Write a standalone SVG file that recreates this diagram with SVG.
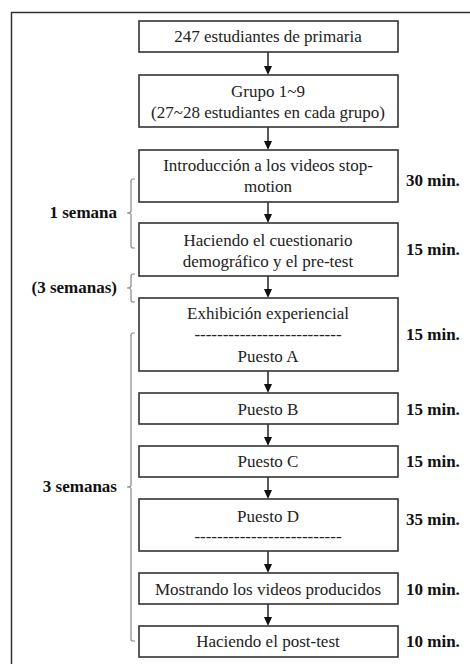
<svg xmlns="http://www.w3.org/2000/svg" width="470" height="664" viewBox="0 0 470 664">
<style>
.frame{fill:none;stroke:#333;stroke-width:1.5}
.box rect{fill:#fff;stroke:#333;stroke-width:1.6}
text{font-family:'Liberation Serif','Times New Roman',Tinos,'DejaVu Serif',serif;font-size:17px}
.t{fill:#222;text-anchor:middle}
.m{font-weight:bold;fill:#111}
.l{font-weight:bold;fill:#111;text-anchor:end}
.con line{stroke:#222;stroke-width:1.5}
.brace{fill:none;stroke:#888;stroke-width:1.2}
</style>
<rect class="frame" x="11.5" y="12.5" width="480" height="680"/>

<g class="con">
<line x1="268" y1="52" x2="268" y2="67"/>
<line x1="268" y1="127" x2="268" y2="142"/>
<line x1="268" y1="202" x2="268" y2="215"/>
<line x1="268" y1="276" x2="268" y2="290"/>
<line x1="268" y1="371" x2="268" y2="385"/>
<line x1="268" y1="424" x2="268" y2="438"/>
<line x1="268" y1="477" x2="268" y2="491"/>
<line x1="268" y1="551" x2="268" y2="565"/>
<line x1="268" y1="604" x2="268" y2="618"/>
<g fill="#111">
<path d="M264,66 L272,66 L268,75 Z"/>
<path d="M264,141 L272,141 L268,150 Z"/>
<path d="M264,214 L272,214 L268,223 Z"/>
<path d="M264,289 L272,289 L268,298 Z"/>
<path d="M264,384 L272,384 L268,393 Z"/>
<path d="M264,437 L272,437 L268,446 Z"/>
<path d="M264,490 L272,490 L268,499 Z"/>
<path d="M264,564 L272,564 L268,573 Z"/>
<path d="M264,617 L272,617 L268,626 Z"/>
</g>
</g>

<g id="n1" class="box"><rect x="139" y="21" width="259" height="31"/><text class="t" x="268" y="42">247 estudiantes de primaria</text></g>
<g id="n2" class="box"><rect x="139" y="75" width="259" height="52"/><text class="t" x="268" y="97">Grupo 1~9</text><text class="t" x="268" y="118">(27~28 estudiantes en cada grupo)</text></g>
<g id="n3" class="box"><rect x="139" y="150" width="259" height="52"/><text class="t" x="268" y="171">Introducción a los videos stop-</text><text class="t" x="268" y="192">motion</text></g>
<g id="n4" class="box"><rect x="139" y="223" width="259" height="53"/><text class="t" x="268" y="246">Haciendo el cuestionario</text><text class="t" x="268" y="267">demográfico y el pre-test</text></g>
<g id="n5" class="box"><rect x="139" y="298" width="259" height="73"/><text class="t" x="268" y="319">Exhibición experiencial</text><text class="t" x="268" y="340">--------------------------</text><text class="t" x="268" y="362">Puesto A</text></g>
<g id="n6" class="box"><rect x="139" y="393" width="259" height="31"/><text class="t" x="268" y="415">Puesto B</text></g>
<g id="n7" class="box"><rect x="139" y="446" width="259" height="31"/><text class="t" x="268" y="467">Puesto C</text></g>
<g id="n8" class="box"><rect x="139" y="499" width="259" height="52"/><text class="t" x="268" y="522">Puesto D</text><text class="t" x="268" y="542">--------------------------</text></g>
<g id="n9" class="box"><rect x="139" y="573" width="259" height="31"/><text class="t" x="268" y="595">Mostrando los videos producidos</text></g>
<g id="n10" class="box"><rect x="139" y="626" width="259" height="31"/><text class="t" x="268" y="647">Haciendo el post-test</text></g>

<g id="times">
<text class="m" x="406" y="186">30 min.</text>
<text class="m" x="406" y="255">15 min.</text>
<text class="m" x="406" y="340">15 min.</text>
<text class="m" x="406" y="415">15 min.</text>
<text class="m" x="406" y="467">15 min.</text>
<text class="m" x="406" y="525">35 min.</text>
<text class="m" x="406" y="595">10 min.</text>
<text class="m" x="406" y="647">10 min.</text>
</g>

<g id="periods">
<path class="brace" d="M135,179 L133,179 Q131,179 131,181 L131,211 Q131,213 127,213 Q131,213 131,215 L131,246 Q131,248 133,248 L135,248"/>
<text class="l" x="117" y="218">1 semana</text>
<path class="brace" d="M135,274 L133,274 Q131,274 131,276 L131,286 Q131,288 127,288 Q131,288 131,290 L131,300 Q131,302 133,302 L135,302"/>
<text class="l" x="117" y="293">(3 semanas)</text>
<path class="brace" d="M135,333 L133,333 Q131,333 131,335 L131,485 Q131,487 127,487 Q131,487 131,489 L131,639 Q131,641 133,641 L135,641"/>
<text class="l" x="117" y="492">3 semanas</text>
</g>
</svg>
